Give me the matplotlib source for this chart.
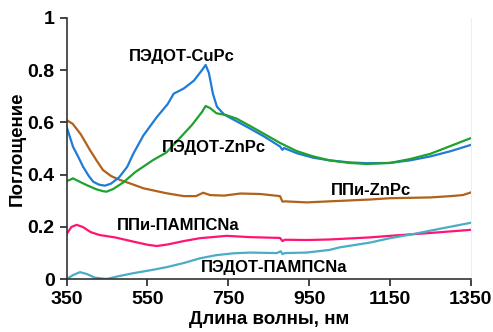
import matplotlib
matplotlib.use("Agg")
import matplotlib.pyplot as plt

plt.rcParams['font.family'] = ['Liberation Sans', 'DejaVu Sans']
plt.rcParams['font.weight'] = 'bold'

# Absorption spectra (wavelength, nm -> absorbance)
wl_cupc = [350, 366, 380, 391, 405, 416, 430, 445, 460, 480, 500, 515, 540, 573, 600, 615,
           640, 665, 685, 694, 702, 712, 722, 740, 770, 800, 840, 878, 884, 888, 920, 960,
           1000, 1050, 1093, 1150, 1200, 1250, 1300, 1350]
abs_cupc = [0.584, 0.507, 0.465, 0.43, 0.395, 0.373, 0.362, 0.358, 0.366, 0.39, 0.43, 0.48,
            0.55, 0.62, 0.67, 0.71, 0.73, 0.76, 0.80, 0.82, 0.79, 0.71, 0.66, 0.63, 0.605,
            0.58, 0.545, 0.508, 0.495, 0.502, 0.482, 0.465, 0.455, 0.447, 0.444, 0.445,
            0.455, 0.47, 0.49, 0.514]

wl_znpc = [350, 358, 366, 380, 400, 424, 440, 449, 465, 490, 520, 564, 597, 630, 660, 685,
           694, 705, 721, 745, 770, 800, 840, 880, 920, 960, 1000, 1050, 1093,
           1150, 1200, 1250, 1300, 1350]
abs_znpc = [0.376, 0.38, 0.386, 0.375, 0.36, 0.344, 0.337, 0.335, 0.345, 0.37, 0.41, 0.456,
            0.485, 0.54, 0.59, 0.64, 0.663, 0.655, 0.635, 0.628, 0.615, 0.59, 0.555, 0.52,
            0.49, 0.47, 0.455, 0.445, 0.441, 0.445, 0.46, 0.48, 0.51, 0.54]

wl_ppi_znpc = [350, 365, 385, 408, 424, 440, 460, 482, 510, 540, 597, 640, 670, 688, 705,
               740, 780, 830, 878, 884, 890, 944, 1000, 1100, 1150, 1250, 1300, 1330, 1350]
abs_ppi_znpc = [0.609, 0.595, 0.555, 0.494, 0.455, 0.418, 0.395, 0.38, 0.365, 0.348, 0.329,
                0.318, 0.318, 0.331, 0.322, 0.32, 0.328, 0.326, 0.318, 0.297, 0.298, 0.294,
                0.298, 0.305, 0.31, 0.313, 0.318, 0.322, 0.332]

wl_ppi_pamps = [350, 362, 375, 390, 410, 432, 470, 515, 550, 573, 600, 640, 680, 746, 804,
                878, 884, 890, 944, 1000, 1100, 1150, 1250, 1350]
abs_ppi_pamps = [0.173, 0.2, 0.208, 0.2, 0.18, 0.169, 0.16, 0.144, 0.132, 0.127, 0.133,
                 0.146, 0.157, 0.166, 0.161, 0.158, 0.146, 0.151, 0.150, 0.152, 0.16, 0.166,
                 0.177, 0.189]

wl_pedot_pamps = [350, 365, 383, 400, 420, 449, 480, 515, 560, 597, 640, 680, 720, 762, 804,
                  870, 880, 884, 890, 944, 1000, 1026, 1100, 1150, 1208, 1280, 1350]
abs_pedot_pamps = [0.0, 0.015, 0.027, 0.02, 0.006, 0.001, 0.012, 0.023, 0.035, 0.046, 0.062,
                   0.080, 0.092, 0.099, 0.102, 0.100, 0.107, 0.096, 0.100, 0.102, 0.112, 0.122,
                   0.14, 0.157, 0.173, 0.195, 0.216]

fig = plt.figure(figsize=(4.93, 3.32), dpi=100)
ax = fig.add_axes([0.135, 0.159, 0.82, 0.787])

lw = 1.6
ax.plot(wl_ppi_znpc, abs_ppi_znpc, color='#b0611a', lw=lw)
ax.plot(wl_cupc, abs_cupc, color='#1f7bd6', lw=lw)
ax.plot(wl_znpc, abs_znpc, color='#1fa12f', lw=lw)
ax.plot(wl_ppi_pamps, abs_ppi_pamps, color='#ff1472', lw=lw)
ax.plot(wl_pedot_pamps, abs_pedot_pamps, color='#4bacc6', lw=lw)

ax.set_xlim(350, 1350)
ax.set_ylim(0, 1)
ax.set_xticks([350, 550, 750, 950, 1150, 1350])
ax.set_yticks([0, 0.2, 0.4, 0.6, 0.8, 1])
ax.set_yticklabels(['0', '0.2', '0.4', '0.6', '0.8', '1'])
ax.tick_params(labelsize=14, width=1.2, length=5, colors='#222222', labelcolor='black')

for side in ['left', 'bottom']:
    ax.spines[side].set_color('#333333')
    ax.spines[side].set_linewidth(1.2)
ax.spines['top'].set_visible(False)
ax.spines['right'].set_color('#eeeeee')
ax.spines['right'].set_linewidth(0.8)

ax.set_xlabel('Длина волны, нм', fontsize=13.5, fontweight='bold', labelpad=2)
ax.set_ylabel('Поглощение', fontsize=13.5, fontweight='bold', labelpad=1)

lab = dict(fontsize=12, fontweight='bold', ha='center', va='center')
ax.text(635, 0.854, 'ПЭДОТ-CuPc', **lab)
ax.text(715, 0.506, 'ПЭДОТ-ZnPc', **lab)
ax.text(1104, 0.338, 'ППи-ZnPc', **lab)
ax.text(625, 0.204, 'ППи-ПАМПСNa', **lab)
ax.text(863, 0.043, 'ПЭДОТ-ПАМПСNa', **lab)

fig.savefig('out.png', dpi=100)
